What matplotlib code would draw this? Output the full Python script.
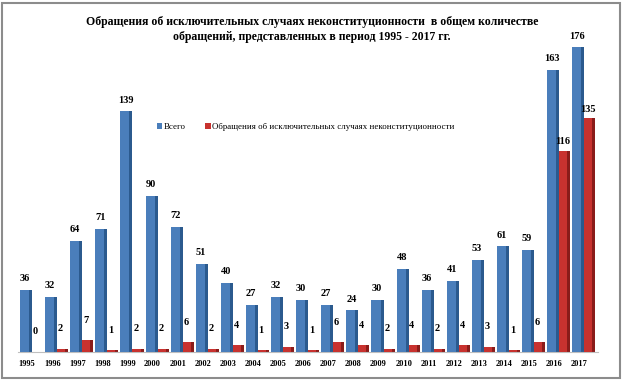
import matplotlib.pyplot as plt
from matplotlib.patches import Rectangle
import numpy as np

# data
years = [str(y) for y in range(1995, 2018)]
total = [36, 32, 64, 71, 139, 90, 72, 51, 40, 27, 32, 30, 27, 24, 30, 48, 36, 41, 53, 61, 59, 163, 176]
exceptional = [0, 2, 7, 1, 2, 2, 6, 2, 4, 1, 3, 1, 6, 4, 2, 4, 2, 4, 3, 1, 6, 116, 135]

title = ("Обращения об исключительных случаях неконституционности  в общем количестве\n"
         "обращений, представленных в период 1995 - 2017 гг.")
legend_labels = ["Всего", "Обращения об исключительных случаях неконституционности"]

blue_front, blue_side = "#4a7ebb", "#2b5a8e"
red_front, red_side = "#c8322f", "#8a1c1a"

plt.rcParams['font.family'] = ['Liberation Serif', 'DejaVu Serif']

fig = plt.figure(figsize=(6.24, 3.81), dpi=100)
ax = fig.add_axes([0.0192, 0.0761, 0.9455, 0.863])

x = np.arange(len(years))

# fake 3D look: a front face plus a darker side face
b = ax.bar(x - 0.28, total, width=0.36, align='edge', color=blue_front, label=legend_labels[0], zorder=3)
ax.bar(x + 0.08, total, width=0.12, align='edge', color=blue_side, zorder=2)
r = ax.bar(x + 0.2, exceptional, width=0.32, align='edge', color=red_front, label=legend_labels[1], zorder=3)
ax.bar(x + 0.52, exceptional, width=0.12, align='edge', color=red_side, zorder=2)

for xi, v in zip(x, total):
    ax.text(xi - 0.08, v + 4, str(v), ha='center', va='bottom', fontsize=7.5, fontweight='bold')
for xi, v in zip(x, exceptional):
    ax.text(xi + 0.33, v * 0.95 + 9, str(v), ha='center', va='bottom', fontsize=7.5, fontweight='bold')

ax.set_xlim(-0.6, 22.9)
ax.set_ylim(0, 190)
ax.set_xticks(x)
ax.set_xticklabels(years, fontsize=6, fontweight='bold')
ax.tick_params(axis='x', length=0, pad=6)
ax.set_yticks([])
for s in ['top', 'right', 'left']:
    ax.spines[s].set_visible(False)
ax.spines['bottom'].set_color('#bfbfbf')
ax.spines['bottom'].set_bounds(-0.35, 22.75)
ax.patch.set_alpha(0)

fig.text(0.5, 0.923, title, ha='center', va='center', fontsize=8.5, fontweight='bold', linespacing=1.35)

fig.legend(handles=[b, r], labels=legend_labels, loc='center left', bbox_to_anchor=(0.238, 0.667),
           ncol=2, frameon=False, fontsize=6.4, handlelength=0.6, handleheight=0.6,
           handletextpad=0.2, columnspacing=2.2)

fig.patches.append(Rectangle((0.004, 0.008), 0.99, 0.985, transform=fig.transFigure,
                             fill=False, edgecolor='#8c8c8c', linewidth=1.5))

plt.savefig('out.png', dpi=100)
